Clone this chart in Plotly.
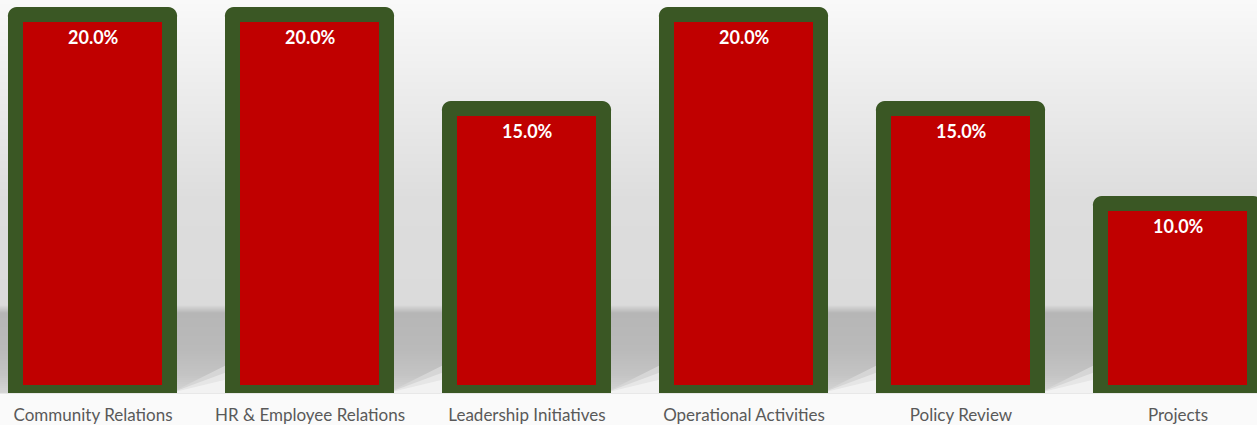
import plotly.graph_objects as go

categories = ["Community Relations", "HR & Employee Relations", "Leadership Initiatives",
              "Operational Activities", "Policy Review", "Projects"]
values = [20.0, 20.0, 15.0, 20.0, 15.0, 10.0]

W, H = 1257, 425
T, B = 0, 32
PH = H - T - B  # plot height in px


def hexc(v):
    v = int(round(v))
    return "#%02x%02x%02x" % (v, v, v)


def py2paper(py):
    return (H - B - py) / PH


# background gradient stops (pixel y, grey level)
stops = [(0, 249), (200, 221), (305, 219), (313, 182), (350, 186), (375, 196), (393, 214),
         (394, 250), (425, 250)]

shapes = []
for y in range(0, H):
    mid = y + 0.5
    for (a, ca), (b, cb) in zip(stops[:-1], stops[1:]):
        if a <= mid <= b:
            c = ca + (cb - ca) * (mid - a) / (b - a)
            break
    # each band extends to the bottom so that the next one overlaps it (no seams)
    shapes.append(dict(type="rect", xref="paper", yref="paper", x0=-0.02, x1=1.02,
                       y0=py2paper(H + 2), y1=py2paper(y), fillcolor=hexc(c),
                       line=dict(width=0), layer="below"))

# diagonal light wedges at the bottom of each gap (shadow edge)
bw = 0.714
for i in range(len(categories)):
    xl = i + bw / 2
    xr = i + 1 - bw / 2
    for shade, top in [(214, 362), (230, 370), (242, 378)]:
        p0 = py2paper(393)
        p1 = py2paper(top)
        shapes.append(dict(type="path", xref="x", yref="paper",
                           path=f"M {xl},{p0} L {xr},{p1} L {xr},{p0} Z",
                           fillcolor=hexc(shade), line=dict(width=0), layer="below"))

fig = go.Figure()
fig.add_trace(go.Bar(
    x=categories, y=values, width=bw,
    marker=dict(color="#C00000", line=dict(color="#3A5724", width=15), cornerradius=2),
    hoverinfo="skip",
))

annotations = []
for c, v in zip(categories, values):
    annotations.append(dict(x=c, y=v, xref="x", yref="y", text=f"{v:.1f}%",
                            showarrow=False, yanchor="top", yshift=-9,
                            font=dict(family="Lato", size=18, color="white", weight="bold")))

pxu = 217.0
x0 = -93.0 / pxu
fig.update_layout(
    width=W, height=H,
    margin=dict(l=0, r=0, t=T, b=B, autoexpand=False),
    paper_bgcolor="#fafafa", plot_bgcolor="rgba(0,0,0,0)",
    showlegend=False,
    shapes=shapes,
    annotations=annotations,
    bargap=0,
    hovermode=False,
    xaxis=dict(range=[x0, x0 + W / pxu], showgrid=False, showline=False, zeroline=False,
               ticks="", ticklabelstandoff=10, automargin=False,
               tickfont=dict(family="Lato", size=17, color="#595959")),
    yaxis=dict(range=[0, 20 * PH / (PH - 14.5)], visible=False, automargin=False),
)

fig.write_html("out.html", config={"displayModeBar": False},
               post_script="document.body.style.margin='0';")
